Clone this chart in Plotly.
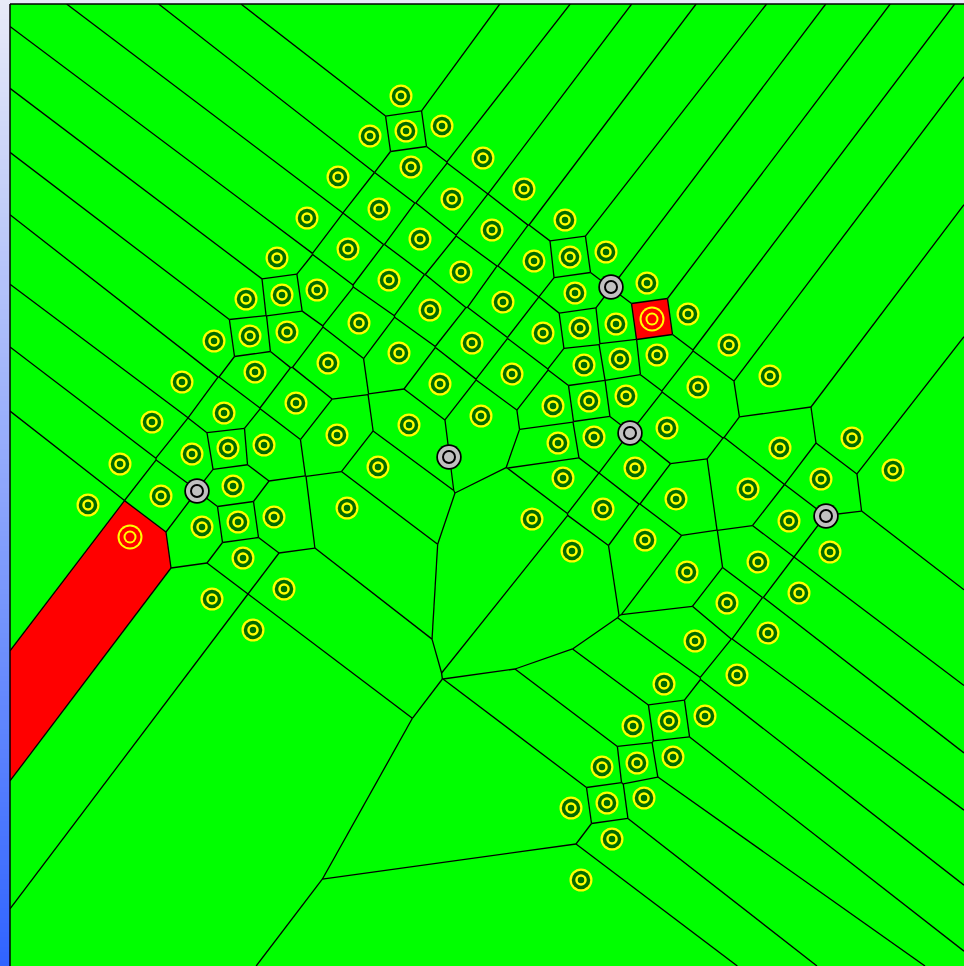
import numpy as np
import plotly.graph_objects as go

# Voronoi sites (pixel-like coordinates, y grows downward)
site_x = [401, 370, 406, 442, 411, 483, 338, 452, 524, 307, 379, 492, 565, 420, 348, 277, 570, 606, 534, 461,
          389, 317, 246, 282, 647, 575, 503, 430, 359, 214, 250, 287, 688, 616, 580, 543, 472, 399, 328, 255,
          182, 729, 657, 620, 584, 512, 440, 770, 698, 626, 589, 553, 481, 409, 296, 224, 152, 667, 594, 558,
          780, 852, 337, 264, 228, 192, 120, 378, 635, 563, 893, 821, 748, 676, 161, 233, 88, 347, 603, 532,
          789, 274, 238, 202, 645, 830, 572, 758, 243, 687, 284, 212, 799, 727, 253, 768, 695, 737, 664, 705,
          669, 633, 673, 637, 602, 644, 607, 571, 612, 581]
site_y = [96, 136, 131, 126, 167, 158, 177, 199, 189, 218, 209, 230, 220, 239, 249, 258, 257, 252, 261, 272,
          280, 290, 299, 295, 283, 293, 302, 310, 323, 341, 336, 332, 314, 324, 328, 333, 343, 353, 363, 372,
          382, 345, 355, 359, 365, 374, 384, 376, 387, 396, 401, 406, 416, 425, 403, 413, 422, 428, 437, 443,
          448, 438, 435, 445, 448, 454, 464, 467, 468, 478, 470, 479, 489, 499, 496, 486, 505, 508, 509, 519,
          521, 517, 522, 527, 540, 552, 551, 562, 558, 572, 589, 599, 593, 603, 630, 633, 641, 675, 684, 716,
          721, 726, 757, 763, 767, 798, 803, 808, 839, 880]

# Highlighted sites (their cells are filled red)
hot_x = [652, 130]
hot_y = [319, 537]

# Probe points drawn in grey
probe_x = [611, 630, 449, 197, 826]
probe_y = [287, 433, 457, 491, 516]

X0, X1, Y0, Y1 = 10.0, 964.0, 4.0, 966.0


def clip_halfplane(poly, a, b, c):
    """Keep the part of poly where a*x + b*y <= c."""
    out = []
    n = len(poly)
    for k in range(n):
        p = poly[k]
        q = poly[(k + 1) % n]
        fp = a * p[0] + b * p[1] - c
        fq = a * q[0] + b * q[1] - c
        if fp <= 0:
            out.append(p)
        if (fp < 0 < fq) or (fq < 0 < fp):
            t = fp / (fp - fq)
            out.append((p[0] + t * (q[0] - p[0]), p[1] + t * (q[1] - p[1])))
    return out


all_x = site_x + hot_x
all_y = site_y + hot_y
pts = np.column_stack([all_x, all_y]).astype(float)

cells = []
for i, (xi, yi) in enumerate(pts):
    poly = [(X0, Y0), (X1, Y0), (X1, Y1), (X0, Y1)]
    order = np.argsort((pts[:, 0] - xi) ** 2 + (pts[:, 1] - yi) ** 2)
    for j in order:
        if j == i:
            continue
        xj, yj = pts[j]
        poly = clip_halfplane(poly, 2 * (xj - xi), 2 * (yj - yi), xj * xj + yj * yj - xi * xi - yi * yi)
        if not poly:
            break
    cells.append(poly)


def on_box_side(p, q, eps=1e-6):
    for v, idx in ((X0, 0), (X1, 0), (Y0, 1), (Y1, 1)):
        if abs(p[idx] - v) < eps and abs(q[idx] - v) < eps:
            return True
    return False


seen = set()
ex, ey = [], []
for poly in cells:
    n = len(poly)
    for k in range(n):
        p, q = poly[k], poly[(k + 1) % n]
        if on_box_side(p, q):
            continue
        a = (round(p[0], 1), round(p[1], 1))
        b = (round(q[0], 1), round(q[1], 1))
        key = (a, b) if a <= b else (b, a)
        if key in seen or a == b:
            continue
        seen.add(key)
        ex += [p[0], q[0], None]
        ey += [p[1], q[1], None]

fig = go.Figure()

# red cells
n_sites = len(site_x)
for k in range(len(hot_x)):
    poly = cells[n_sites + k]
    fig.add_trace(go.Scatter(x=[p[0] for p in poly] + [poly[0][0]], y=[p[1] for p in poly] + [poly[0][1]],
                             mode="lines", fill="toself", fillcolor="#ff0000", line=dict(width=0),
                             hoverinfo="skip", showlegend=False))

# cell edges
fig.add_trace(go.Scatter(x=ex, y=ey, mode="lines", line=dict(color="#000000", width=1.3),
                         hoverinfo="skip", showlegend=False))


def ring_marker(xs, ys, layers):
    for size, color in layers:
        fig.add_trace(go.Scatter(x=xs, y=ys, mode="markers",
                                 marker=dict(size=size, color=color, line=dict(width=0)),
                                 hoverinfo="skip", showlegend=False))


ring_marker(site_x, site_y, [(23, "#ffff00"), (18.5, "#006a00"), (11.5, "#ffff00"), (6.5, "#006a00")])
ring_marker(hot_x, hot_y, [(25, "#ffff00"), (21, "#ff0000"), (13, "#ffff00"), (9, "#ff0000")])
ring_marker(probe_x, probe_y, [(25.5, "#000000"), (22, "#c0c0c0"), (14, "#000000"), (10, "#c0c0c0")])

# gradient strip along the left edge
strip_vals = np.linspace(0, 1, 200)
fig.add_trace(go.Heatmap(z=[[v] for v in strip_vals], x=[0], y=np.arange(200),
                         colorscale=[[0, "#e8eaf8"], [0.5, "#8ea6fb"], [1, "#3064ff"]],
                         showscale=False, hoverinfo="skip", xaxis="x2", yaxis="y2"))

W, H = 964, 966
fig.update_layout(
    width=W, height=H,
    margin=dict(l=0, r=0, t=0, b=0),
    paper_bgcolor="#e8eaf8",
    plot_bgcolor="#00ff00",
    xaxis=dict(domain=[X0 / W, 1], range=[X0, X1], visible=False, fixedrange=True),
    yaxis=dict(domain=[0, 1 - Y0 / H], range=[Y1, Y0], visible=False, fixedrange=True),
    xaxis2=dict(domain=[0, X0 / W], range=[-0.5, 0.5], visible=False, anchor="y2"),
    yaxis2=dict(domain=[0, 1], range=[199.5, -0.5], visible=False, anchor="x2"),
    shapes=[
        dict(type="line", xref="paper", yref="paper", x0=X0 / W, x1=1, y0=1 - Y0 / H, y1=1 - Y0 / H,
             line=dict(color="#000000", width=1.5)),
        dict(type="line", xref="paper", yref="paper", x0=X0 / W, x1=X0 / W, y0=0, y1=1 - Y0 / H,
             line=dict(color="#000000", width=1.5)),
    ],
)

fig.write_html("out.html")
